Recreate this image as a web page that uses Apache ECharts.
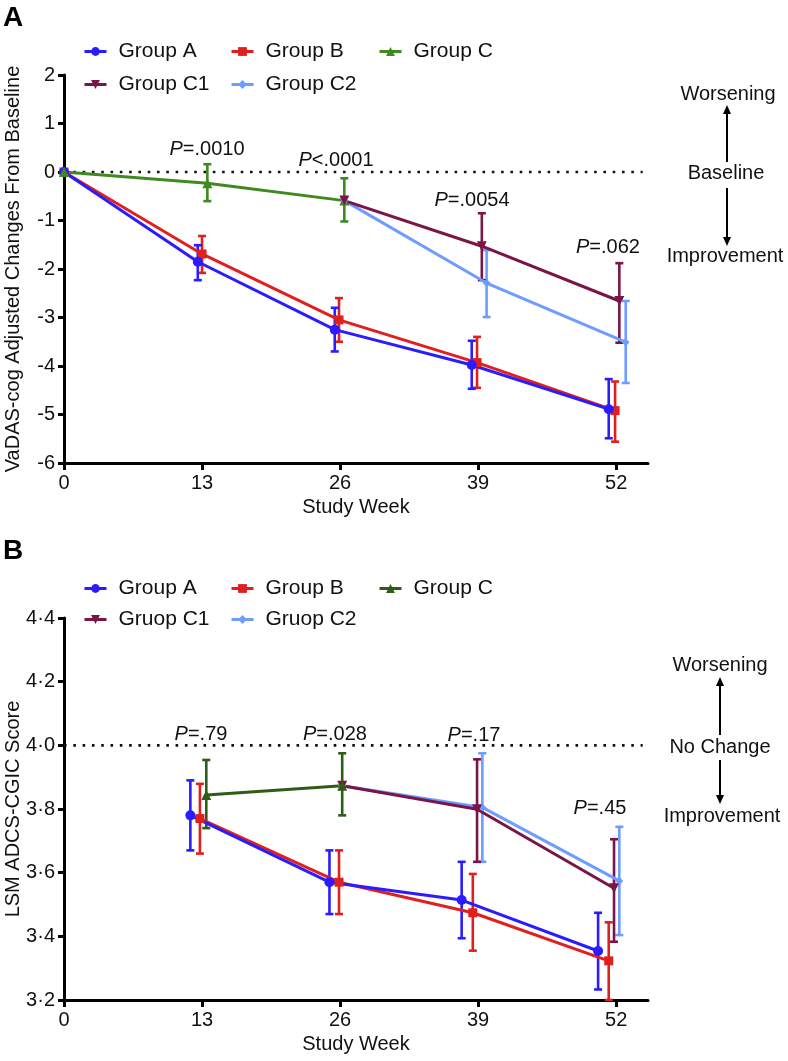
<!DOCTYPE html>
<html>
<head>
<meta charset="utf-8">
<script src="https://cdn.jsdelivr.net/npm/echarts@6/dist/echarts.min.js"></script>
<style>html,body{margin:0;padding:0;background:#fff}#c{width:788px;height:1061px}</style>
</head>
<body>
<div id="c"></div>
<script>
// ---------- DATA ----------
const weekTicks = [0, 13, 26, 39, 52];

// Panel A: VaDAS-cog adjusted change from baseline
const aWeeksAB = [0, 13, 26, 39, 52];
const aGroupA_mean = [0, -1.85, -3.25, -3.98, -4.89];
const aGroupA_lo   = [null, -2.23, -3.70, -4.47, -5.49];
const aGroupA_hi   = [null, -1.51, -2.80, -3.48, -4.27];
const aGroupB_mean = [0, -1.69, -3.05, -3.93, -4.92];
const aGroupB_lo   = [null, -2.08, -3.50, -4.45, -5.56];
const aGroupB_hi   = [null, -1.32, -2.60, -3.40, -4.32];
const aWeeksC = [0, 13, 26];
const aGroupC_mean = [0, -0.23, -0.59];
const aGroupC_lo   = [null, -0.60, -1.02];
const aGroupC_hi   = [null, 0.16, -0.13];
const aWeeksC12 = [26, 39, 52];
const aGroupC1_mean = [-0.59, -1.53, -2.66];
const aGroupC1_lo   = [null, -2.23, -3.52];
const aGroupC1_hi   = [null, -0.85, -1.88];
const aGroupC2_mean = [-0.59, -2.29, -3.51];
const aGroupC2_lo   = [null, -2.99, -4.35];
const aGroupC2_hi   = [null, -1.61, -2.66];
const aPvalues = ['=.0010', '<.0001', '=.0054', '=.062'];

// Panel B: LSM ADCS-CGIC score
const bWeeksAB = [13, 26, 39, 52];
const bGroupA_mean = [3.78, 3.57, 3.514, 3.354];
const bGroupA_lo   = [3.67, 3.47, 3.394, 3.233];
const bGroupA_hi   = [3.89, 3.67, 3.634, 3.474];
const bGroupB_mean = [3.77, 3.57, 3.474, 3.323];
const bGroupB_lo   = [3.66, 3.47, 3.355, 3.20];
const bGroupB_hi   = [3.879, 3.67, 3.596, 3.444];
const bWeeksC = [13, 26];
const bGroupC_mean = [3.844, 3.873];
const bGroupC_lo   = [3.74, 3.78];
const bGroupC_hi   = [3.954, 3.975];
const bWeeksC12 = [26, 39, 52];
const bGroupC1_mean = [3.873, 3.799, 3.551];
const bGroupC1_lo   = [null, 3.634, 3.383];
const bGroupC1_hi   = [null, 3.956, 3.705];
const bGroupC2_mean = [3.873, 3.805, 3.574];
const bGroupC2_lo   = [null, 3.634, 3.404];
const bGroupC2_hi   = [null, 3.975, 3.744];
const bPvalues = ['=.79', '=.028', '=.17', '=.45'];

const namesA = ['Group A', 'Group B', 'Group C', 'Group C1', 'Group C2'];
const namesB = ['Group A', 'Group B', 'Group C', 'Gruop C1', 'Gruop C2'];

// ---------- STYLE ----------
const FONT = 'Liberation Sans, Arial, Helvetica, sans-serif';
const BLUE = '#2a1cff', RED = '#e0201e', GREEN_A = '#3f8a1f', GREEN_B = '#2d5c16', MAROON = '#7a1547', LBLUE = '#6e9dff';
// horizontal dodge (in weeks) applied to each point so markers don't overlap
const dodge = {
  aA: [0, -0.4, -0.5, -0.6, -0.7], aB: [0, 0.0, -0.1, -0.1, -0.1], aC: [0, 0.5, 0.4], aC1: [0.4, 0.35, 0.3], aC2: [0.4, 0.8, 0.9],
  bA: [-1.1, -1.0, -1.55, -1.7], bB: [-0.2, -0.1, -0.5, -0.7], bC: [0.4, 0.2], bC1: [0.2, -0.1, -0.2], bC2: [0.2, 0.4, 0.3]
};

function pts(weeks, vals, dg) { return weeks.map((w, i) => [w + dg[i], vals[i]]); }
function bars(weeks, lo, hi, dg) {
  const out = [];
  weeks.forEach((w, i) => { if (lo[i] != null && hi[i] != null) out.push([w + dg[i], lo[i], hi[i]]); });
  return out;
}

function lineSeries(name, gi, data, color, symbol, size) {
  return {
    type: 'line', name, xAxisIndex: gi, yAxisIndex: gi, data, z: 4,
    symbol, symbolSize: size, showAllSymbol: true,
    lineStyle: { color, width: 3 }, itemStyle: { color },
    emphasis: { disabled: true }, animation: false
  };
}
function errSeries(gi, data, color) {
  return {
    type: 'custom', xAxisIndex: gi, yAxisIndex: gi, data, z: 3, silent: true, animation: false,
    encode: { x: 0, y: [1, 2] },
    renderItem(params, api) {
      const x = api.value(0);
      const p1 = api.coord([x, api.value(1)]);
      const p2 = api.coord([x, api.value(2)]);
      const hw = 4;
      const st = { stroke: color, lineWidth: 2.6 };
      return { type: 'group', children: [
        { type: 'line', shape: { x1: p1[0], y1: p1[1], x2: p2[0], y2: p2[1] }, style: st },
        { type: 'line', shape: { x1: p1[0] - hw, y1: p1[1], x2: p1[0] + hw, y2: p1[1] }, style: st },
        { type: 'line', shape: { x1: p2[0] - hw, y1: p2[1], x2: p2[0] + hw, y2: p2[1] }, style: st }
      ]};
    }
  };
}
function dotted(gi, y) {
  return { type: 'line', xAxisIndex: gi, yAxisIndex: gi, data: [[0, y], [54.5, y]], symbol: 'none', silent: true, z: 2,
    lineStyle: { color: '#111', width: 2.6, type: [2.6, 6.7] }, animation: false };
}

const series = [
  dotted(0, 0),
  errSeries(0, bars(aWeeksAB, aGroupB_lo, aGroupB_hi, dodge.aB), RED),
  errSeries(0, bars(aWeeksAB, aGroupA_lo, aGroupA_hi, dodge.aA), BLUE),
  errSeries(0, bars(aWeeksC, aGroupC_lo, aGroupC_hi, dodge.aC), GREEN_A),
  errSeries(0, bars(aWeeksC12, aGroupC2_lo, aGroupC2_hi, dodge.aC2), LBLUE),
  errSeries(0, bars(aWeeksC12, aGroupC1_lo, aGroupC1_hi, dodge.aC1), MAROON),
  lineSeries('A:' + namesA[1], 0, pts(aWeeksAB, aGroupB_mean, dodge.aB), RED, 'rect', 9),
  lineSeries('A:' + namesA[0], 0, pts(aWeeksAB, aGroupA_mean, dodge.aA), BLUE, 'circle', 10),
  lineSeries('A:' + namesA[2], 0, pts(aWeeksC, aGroupC_mean, dodge.aC), GREEN_A, 'triangle', 10),
  lineSeries('A:' + namesA[4], 0, pts(aWeeksC12, aGroupC2_mean, dodge.aC2), LBLUE, 'diamond', 8),
  lineSeries('A:' + namesA[3], 0, pts(aWeeksC12, aGroupC1_mean, dodge.aC1), MAROON, 'path://M0,0 L10,0 L5,9 Z', 10),

  dotted(1, 4.0),
  errSeries(1, bars(bWeeksAB, bGroupB_lo, bGroupB_hi, dodge.bB), RED),
  errSeries(1, bars(bWeeksAB, bGroupA_lo, bGroupA_hi, dodge.bA), BLUE),
  errSeries(1, bars(bWeeksC, bGroupC_lo, bGroupC_hi, dodge.bC), GREEN_B),
  errSeries(1, bars(bWeeksC12, bGroupC2_lo, bGroupC2_hi, dodge.bC2), LBLUE),
  errSeries(1, bars(bWeeksC12, bGroupC1_lo, bGroupC1_hi, dodge.bC1), MAROON),
  lineSeries('B:' + namesB[1], 1, pts(bWeeksAB, bGroupB_mean, dodge.bB), RED, 'rect', 9),
  lineSeries('B:' + namesB[0], 1, pts(bWeeksAB, bGroupA_mean, dodge.bA), BLUE, 'circle', 10),
  lineSeries('B:' + namesB[4], 1, pts(bWeeksC12, bGroupC2_mean, dodge.bC2), LBLUE, 'diamond', 8),
  lineSeries('B:' + namesB[3], 1, pts(bWeeksC12, bGroupC1_mean, dodge.bC1), MAROON, 'path://M0,0 L10,0 L5,9 Z', 10),
  lineSeries('B:' + namesB[2], 1, pts(bWeeksC, bGroupC_mean, dodge.bC), GREEN_B, 'triangle', 10)
];

function xAxis(gi) {
  return {
    type: 'value', gridIndex: gi, min: 0, max: 55,
    name: 'Study Week', nameLocation: 'middle', nameGap: 34, nameMoveOverlap: false,
    nameTextStyle: { fontSize: 20, color: '#111', fontFamily: FONT },
    axisLine: { onZero: false, lineStyle: { color: '#000', width: 3 } },
    axisTick: { length: 7, lineStyle: { color: '#000', width: 3 }, customValues: weekTicks },
    axisLabel: { fontSize: 20, color: '#111', fontFamily: FONT, margin: 10, customValues: weekTicks },
    splitLine: { show: false }
  };
}
function yAxis(gi, min, max, interval, name, fmt) {
  return {
    type: 'value', gridIndex: gi, min, max, interval,
    name, nameLocation: 'middle', nameGap: 41, nameMoveOverlap: false,
    nameTextStyle: { fontSize: 20, color: '#111', fontFamily: FONT },
    axisLine: { show: true, onZero: false, lineStyle: { color: '#000', width: 3 } },
    axisTick: { show: true, length: 6, lineStyle: { color: '#000', width: 3 } },
    axisLabel: { fontSize: 20, color: '#111', fontFamily: FONT, margin: 9, formatter: fmt },
    splitLine: { show: false }
  };
}

const legendCols = [83, 230, 378, 83, 230];
function legends(prefix, names, rowTops) {
  return names.map((n, i) => ({
    data: [prefix + n], left: legendCols[i], top: rowTops[i < 3 ? 0 : 1], padding: 0,
    itemWidth: 22, itemHeight: 11, selectedMode: false,
    formatter: (s) => s.slice(2),
    lineStyle: { width: 3 },
    textStyle: { fontSize: 21, color: '#111', fontFamily: FONT, padding: [0, 0, 0, 7] }
  }));
}

function ptext(x, y, s) {
  return { type: 'text', x, y, style: { text: '{i|P}' + s, fontSize: 20, fill: '#111', fontFamily: FONT,
    align: 'center', verticalAlign: 'middle', rich: { i: { fontStyle: 'italic', fontSize: 20, fontFamily: FONT, fill: '#111' } } } };
}
function txt(x, y, s, extra) {
  return Object.assign({ type: 'text', x, y, style: Object.assign({ text: s, fontSize: 20, fill: '#111', fontFamily: FONT, align: 'center', verticalAlign: 'middle' }, extra || {}) });
}
function arrow(x, y1, y2) {
  const dir = y2 > y1 ? 1 : -1;
  return [
    { type: 'line', shape: { x1: x, y1, x2: x, y2: y2 - dir * 6 }, style: { stroke: '#000', lineWidth: 2 } },
    { type: 'polygon', shape: { points: [[x - 4, y2 - dir * 9], [x + 4, y2 - dir * 9], [x, y2]] }, style: { fill: '#000' } }
  ];
}

const graphic = [
  txt(3, 18, 'A', { fontSize: 28, fontWeight: 'bold', align: 'left', fill: '#000' }),
  txt(3, 551, 'B', { fontSize: 28, fontWeight: 'bold', align: 'left', fill: '#000' }),
  ptext(207, 149, aPvalues[0]), ptext(336, 160, aPvalues[1]), ptext(472, 200, aPvalues[2]), ptext(608, 247, aPvalues[3]),
  ptext(201, 734, bPvalues[0]), ptext(335, 734, bPvalues[1]), ptext(474, 735, bPvalues[2]), ptext(600, 808, bPvalues[3]),
  txt(728, 94, 'Worsening'), txt(726, 173, 'Baseline'), txt(725, 256, 'Improvement'),
  ...arrow(727, 162, 105), ...arrow(727, 188, 246),
  txt(720, 665, 'Worsening'), txt(720, 747, 'No Change'), txt(722, 816, 'Improvement'),
  ...arrow(720, 735, 677), ...arrow(720, 760, 804)
];

const option = {
  backgroundColor: '#fff',
  animation: false,
  textStyle: { fontFamily: FONT },
  grid: [
    { left: 64, right: 140, top: 75, bottom: 1061 - 463, containLabel: false, outerBoundsMode: 'none' },
    { left: 64, right: 140, top: 618, bottom: 1061 - 1000, containLabel: false, outerBoundsMode: 'none' }
  ],
  xAxis: [xAxis(0), xAxis(1)],
  yAxis: [
    yAxis(0, -6, 2, 1, 'VaDAS-cog Adjusted Changes From Baseline', (v) => String(v)),
    yAxis(1, 3.2, 4.4, 0.2, 'LSM ADCS-CGIC Score', (v) => v.toFixed(1).replace('.', '\u00b7'))
  ],
  legend: [...legends('A:', namesA, [41, 74]), ...legends('B:', namesB, [578, 609])],
  series,
  graphic
};

const chart = echarts.init(document.getElementById('c'), null, { renderer: 'canvas' });
chart.setOption(option);
</script>
</body>
</html>
